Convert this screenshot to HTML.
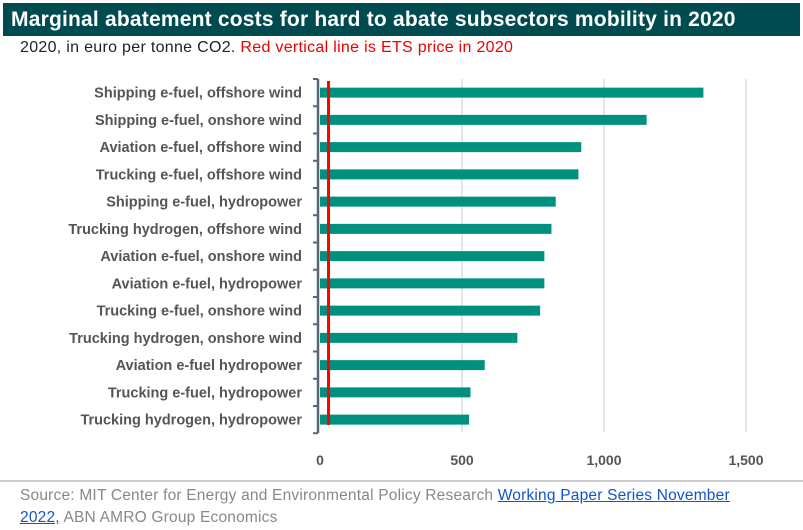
<!DOCTYPE html>
<html><head><meta charset="utf-8"><style>
body{margin:0;width:803px;height:530px;background:#fff;font-family:"Liberation Sans",sans-serif;overflow:hidden;position:relative}
#title{position:absolute;left:3px;top:3px;width:797px;height:33px;background:#004b4f;color:#fff;font-weight:bold;font-size:21px;line-height:33px;padding-left:8px;box-sizing:border-box;letter-spacing:0.2px}
#sub{position:absolute;left:20px;top:39px;font-size:16px;color:#222;letter-spacing:0.3px}
#src{position:absolute;left:20px;top:485px;font-size:15.5px;color:#888;line-height:22px;width:745px;letter-spacing:0.2px}
#src a{color:#1155cc;text-decoration:underline}
</style></head><body>
<div id="title">Marginal abatement costs for hard to abate subsectors mobility in 2020</div>
<div id="sub">2020, in euro per tonne CO2. <span style="color:#e00">Red vertical line is ETS price in 2020</span></div>
<svg id="chart" width="803" height="530" style="position:absolute;left:0;top:0"></svg>
<div id="src">Source: MIT Center for Energy and Environmental Policy Research <a>Working Paper Series November 2022,</a> ABN AMRO Group Economics</div>
<script>
const categories=["Shipping e-fuel, offshore wind","Shipping e-fuel, onshore wind","Aviation e-fuel, offshore wind","Trucking e-fuel, offshore wind","Shipping e-fuel, hydropower","Trucking hydrogen, offshore wind","Aviation e-fuel, onshore wind","Aviation e-fuel, hydropower","Trucking e-fuel, onshore wind","Trucking hydrogen, onshore wind","Aviation e-fuel hydropower","Trucking e-fuel, hydropower","Trucking hydrogen, hydropower"];
const values=[1350,1150,920,910,830,815,790,790,775,695,580,530,525];
const tickValues=[0,500,1000,1500];
const tickLabels=["0","500","1,000","1,500"];
const etsPrice=30;
const svg=document.getElementById('chart');
const NS="http://www.w3.org/2000/svg";
const x=v=>320+v*142/500;
const top0=79,band=27.25;
const y=i=>top0+i*band;
function mk(t,a){const e=document.createElementNS(NS,t);for(const k in a)e.setAttribute(k,a[k]);svg.appendChild(e);return e;}
tickValues.forEach((v,i)=>{
 if(v>0){const g=mk('line',{x1:x(v),x2:x(v),y1:79,y2:432,stroke:'#ddd','stroke-width':1.5});
 
 }
 const t=mk('text',{x:x(v),y:465,'text-anchor':'middle','font-size':14,'font-weight':'bold',fill:'#555'});
 t.textContent=tickLabels[i];
 
 
});
const ax=mk('line',{x1:318,x2:318,y1:79,y2:433,stroke:'#5a6670','stroke-width':2.5});


for(let i=0;i<=categories.length;i++){const tk=mk('line',{x1:313,x2:318,y1:y(i),y2:y(i),stroke:'#5a6670','stroke-width':2});
 
 }
categories.forEach((c,i)=>{
 const cy=y(i)+band/2;
 const b=mk('rect',{x:x(0),y:cy-5,width:x(values[i])-x(0),height:10,fill:'#009080'});
 
 
 const t=mk('text',{x:302,y:cy+5,'text-anchor':'end','font-size':14.5,'font-weight':'bold',fill:'#555'});
 t.textContent=c;
 
 
});
const r=mk('line',{x1:x(etsPrice),x2:x(etsPrice),y1:81,y2:425,stroke:'#f00','stroke-width':3});


const sep=mk('line',{x1:0,x2:803,y1:481,y2:481,stroke:'#bbb','stroke-width':1.5});


</script>
</body></html>
